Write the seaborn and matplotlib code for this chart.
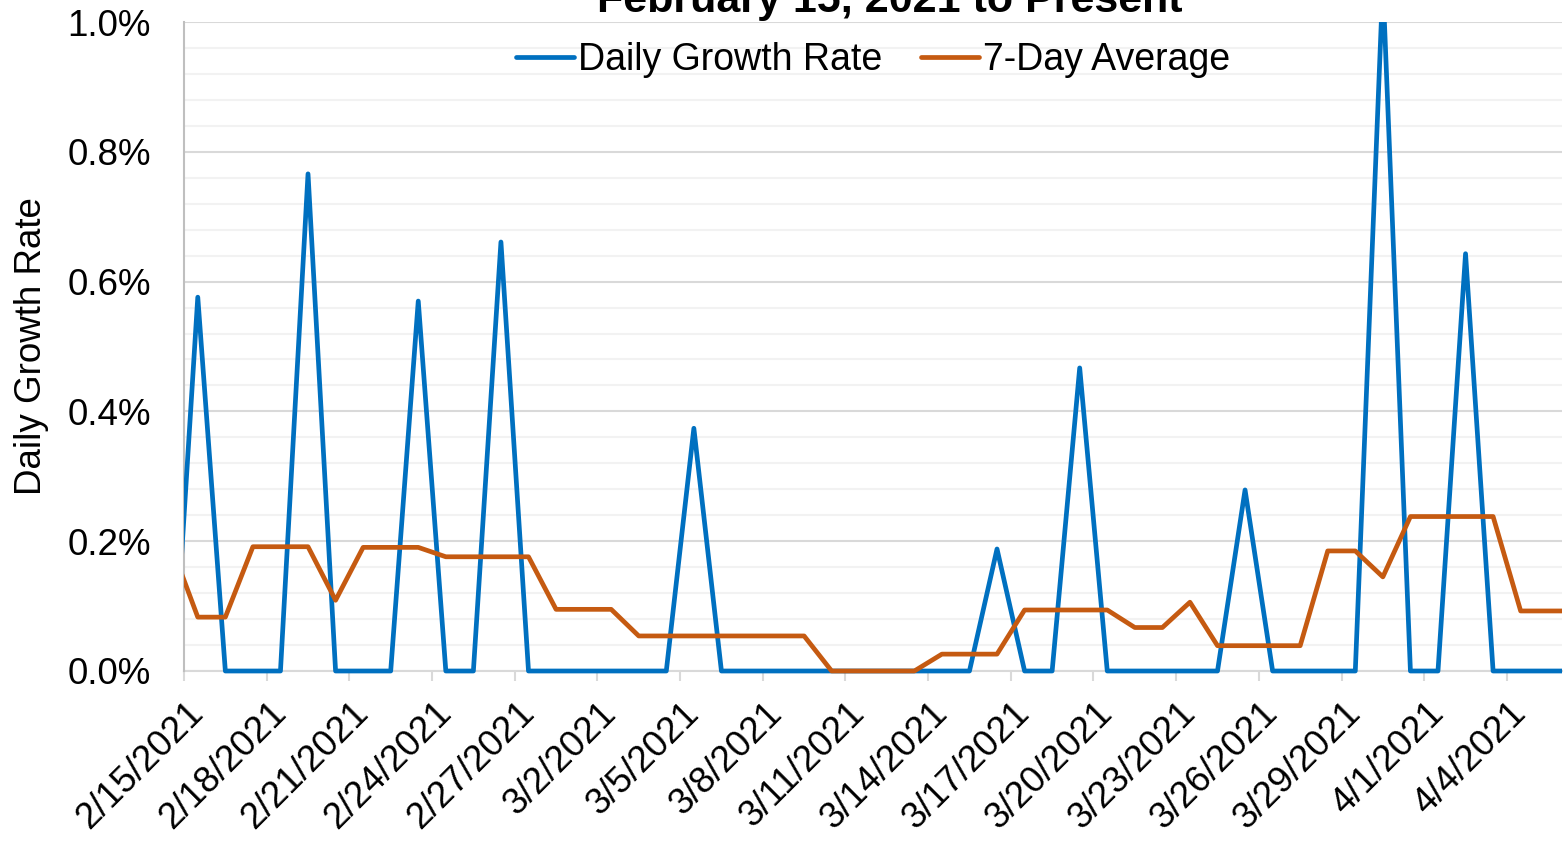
import numpy as np
import pandas as pd
import matplotlib.pyplot as plt
import matplotlib.ticker as mticker
import matplotlib.transforms as mtransforms
from matplotlib.patches import Rectangle
import seaborn as sns

# first point (2/14) and last point (4/6) fall just outside the axis range
dates = pd.date_range("2021-02-14 12:00", periods=52, freq="D")
daily_pct = [-0.10, 0.576, 0, 0, 0, 0.766, 0, 0, 0, 0.570, 0, 0, 0.661,
             0, 0, 0, 0, 0, 0, 0.374, 0, 0, 0, 0, 0, 0, 0, 0, 0, 0, 0.188,
             0, 0, 0.467, 0, 0, 0, 0, 0, 0.279, 0, 0, 0, 0, 1.06, 0, 0,
             0.643, 0, 0, 0, 0]
avg7_pct = [0.197, 0.083, 0.083, 0.1915, 0.1915, 0.1915, 0.109, 0.1905,
            0.1905, 0.1905, 0.176, 0.176, 0.176, 0.176, 0.095, 0.095, 0.095,
            0.054, 0.054, 0.054, 0.054, 0.054, 0.054, 0.054, 0, 0, 0, 0,
            0.026, 0.026, 0.026, 0.094, 0.094, 0.094, 0.094, 0.067, 0.067,
            0.106, 0.039, 0.039, 0.039, 0.039, 0.185, 0.185, 0.145, 0.238,
            0.238, 0.238, 0.238, 0.0925, 0.0925, 0.0925]
tick_dates = pd.date_range("2021-02-15", "2021-04-04", freq="3D")

df = pd.DataFrame({"date": dates,
                   "daily": np.array(daily_pct) / 100,
                   "avg7": np.array(avg7_pct) / 100})

sns.set_style("white")
plt.rcParams['font.family'] = ['Liberation Sans', 'DejaVu Sans']
plt.rcParams['text.color'] = 'black'
plt.rcParams['axes.labelcolor'] = 'black'

fig = plt.figure(figsize=(15.64, 8.41), dpi=100)
ax = fig.add_axes([184 / 1564, 1 - 671 / 841, (1562 - 184) / 1564, (671 - 22) / 841])

sns.lineplot(data=df, x="date", y="daily", ax=ax, color="#0070C0", lw=3.4,
             label="Daily Growth Rate", zorder=3)
sns.lineplot(data=df, x="date", y="avg7", ax=ax, color="#C55A11", lw=3.4,
             label="7-Day Average", zorder=4)

# clip left/right/top at the plot area but let the zero line show in full
clip_rect = Rectangle((0, -0.03), 1, 1.03, transform=ax.transAxes,
                      facecolor="none", edgecolor="none")
ax.add_patch(clip_rect)
for ln in ax.get_lines():
    ln.set_clip_path(clip_rect)

ax.set_xlim(pd.Timestamp("2021-02-15"), pd.Timestamp("2021-04-06"))
ax.set_ylim(0, 0.01)
ax.yaxis.set_major_locator(mticker.MultipleLocator(0.002))
ax.yaxis.set_minor_locator(mticker.MultipleLocator(0.0004))
ax.yaxis.set_major_formatter(mticker.PercentFormatter(1.0, decimals=1))
ax.grid(which="major", axis="y", color="#D9D9D9", lw=1.5)
ax.grid(which="minor", axis="y", color="#F2F2F2", lw=1.5)
ax.set_axisbelow(True)

ax.set_xticks(tick_dates)
ax.set_xticklabels([f"{d.month}/{d.day}/{d.year}" for d in tick_dates],
                   rotation=45, ha="right", va="center", rotation_mode="anchor")
ax.tick_params(axis="x", which="major", length=7, width=1.5, color="#D9D9D9",
               labelcolor="black", labelsize=26.5, pad=16, direction="out",
               bottom=True)
ax.tick_params(axis="y", which="both", length=0, labelcolor="black",
               labelsize=26.5, pad=24)
shift = mtransforms.ScaledTranslation(14 / 100, -5 / 100, fig.dpi_scale_trans)
for lbl in ax.get_xticklabels():
    lbl.set_transform(lbl.get_transform() + shift)

for s in ["top", "right"]:
    ax.spines[s].set_visible(False)
ax.spines["left"].set_color("#BFBFBF")
ax.spines["left"].set_linewidth(1.5)
ax.spines["bottom"].set_color("#D9D9D9")
ax.spines["bottom"].set_linewidth(1.5)
ax.spines["bottom"].set_zorder(1)

ax.set_xlabel("")
ax.set_ylabel("Daily Growth Rate", fontsize=26.5, labelpad=13)

ax.legend(loc="upper center", bbox_to_anchor=(0.5, 0.998), ncol=2, frameon=False,
          fontsize=27, handlelength=1.55, handletextpad=0.1, columnspacing=1.05,
          borderaxespad=0.1)

fig.text(890 / 1564, 1 - 12 / 841, "February 15, 2021 to Present", ha="center",
         va="baseline", fontsize=31, fontweight="bold", color="black")

fig.savefig("out.png", dpi=100)
